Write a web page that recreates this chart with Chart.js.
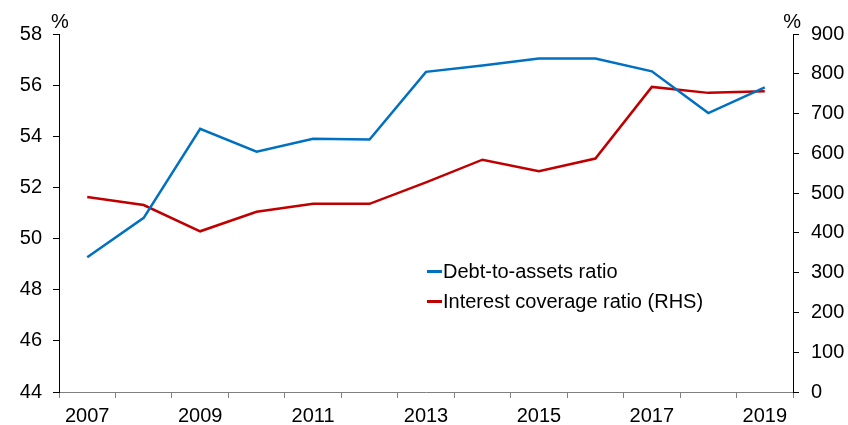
<!DOCTYPE html>
<html>
<head>
<meta charset="utf-8">
<script src="https://cdn.jsdelivr.net/npm/chart.js@4.4.1/dist/chart.umd.min.js"></script>
<style>
  html, body { margin: 0; padding: 0; background: #fff; }
  #wrap { position: relative; width: 848px; height: 425px; }
  #legend { position: absolute; left: 427px; top: 256px; font: 20px "Liberation Sans", Arial, sans-serif; color: #000; }
  #legend div { height: 30px; line-height: 30px; white-space: nowrap; }
  #legend span.sw { display: inline-block; width: 15px; height: 2.5px; vertical-align: middle; margin-right: 1px; position: relative; top: -1px; }
</style>
</head>
<body>
<div id="wrap">
  <canvas id="chart" width="848" height="425"></canvas>
  <div id="legend"></div>
</div>
<script>
// years on the x axis, one point per year
const years = ['2007', '2008', '2009', '2010', '2011', '2012', '2013', '2014', '2015', '2016', '2017', '2018', '2019'];
// debt-to-assets, % (left axis)
const debtToAssets = [49.27, 50.81, 54.29, 53.40, 53.90, 53.87, 56.52, 56.77, 57.04, 57.04, 56.54, 54.91, 55.91];
// interest coverage, % (right axis)
const interestCoverage = [490, 470, 404, 453, 473, 473, 527, 584, 555, 587, 767, 752, 756];

const FONT = '"Liberation Sans", Arial, sans-serif';

// "%" unit labels over both y axes
const unitLabels = {
  id: 'unitLabels',
  afterDraw(chart) {
    const { ctx, chartArea } = chart;
    ctx.save();
    ctx.font = '20px ' + FONT;
    ctx.fillStyle = '#000';
    ctx.textBaseline = 'alphabetic';
    ctx.textAlign = 'left';
    ctx.fillText('%', chartArea.left - 8, chartArea.top - 6);
    ctx.textAlign = 'right';
    ctx.fillText('%', chartArea.right + 8, chartArea.top - 6);
    ctx.restore();
  }
};

const chart = new Chart(document.getElementById('chart').getContext('2d'), {
  type: 'line',
  data: {
    labels: years,
    datasets: [
      { label: 'Debt-to-assets ratio', data: debtToAssets, yAxisID: 'y', borderColor: '#0070C0', borderWidth: 2.5, pointRadius: 0, tension: 0 },
      { label: 'Interest coverage ratio (RHS)', data: interestCoverage, yAxisID: 'y1', borderColor: '#C00000', borderWidth: 2.5, pointRadius: 0, tension: 0 }
    ]
  },
  options: {
    responsive: false,
    animation: false,
    layout: { padding: { top: 34, left: 0, right: 0, bottom: 0 } },
    plugins: { legend: { display: false }, tooltip: { enabled: false } },
    scales: {
      x: {
        offset: true,
        grid: { offset: true, drawOnChartArea: false, drawTicks: true, tickLength: 6, color: '#808080', lineWidth: 1 },
        border: { color: '#808080', width: 1 },
        ticks: {
          color: '#000', font: { size: 20, family: FONT }, padding: 6, maxRotation: 0, autoSkip: false,
          callback: (v, i) => (i % 2 === 0 ? years[i] : '')
        },
        afterFit: s => { s.height = 33; }
      },
      y: {
        position: 'left', min: 44, max: 58,
        grid: { drawOnChartArea: false, tickLength: 6, color: '#000' },
        border: { color: '#000', width: 1 },
        ticks: { stepSize: 2, color: '#000', font: { size: 20, family: FONT }, padding: 11 },
        afterFit: s => { s.width = 59; }
      },
      y1: {
        position: 'right', min: 0, max: 900,
        grid: { drawOnChartArea: false, tickLength: 6, color: '#000' },
        border: { color: '#000', width: 1 },
        ticks: { stepSize: 100, color: '#000', font: { size: 20, family: FONT }, padding: 12 },
        afterFit: s => { s.width = 55; }
      }
    }
  },
  plugins: [unitLabels]
});

// legend box inside the plot area
const legend = document.getElementById('legend');
chart.data.datasets.forEach(ds => {
  const row = document.createElement('div');
  row.innerHTML = `<span class="sw" style="background:${ds.borderColor}"></span>${ds.label}`;
  legend.appendChild(row);
});
</script>
</body>
</html>
